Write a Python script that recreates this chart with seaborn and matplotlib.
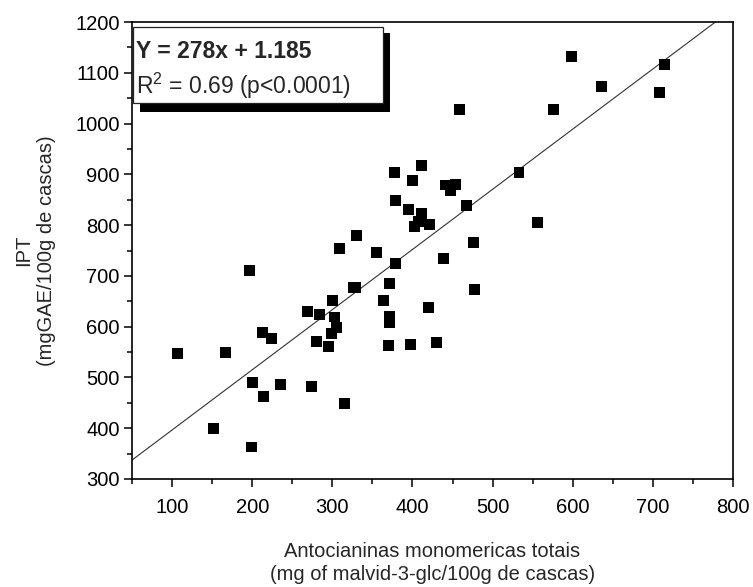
import matplotlib
matplotlib.use("Agg")
import matplotlib.pyplot as plt
import seaborn as sns
import numpy as np
import pandas as pd
from matplotlib.patches import Rectangle
from matplotlib.ticker import MultipleLocator

# ---- data ----
antocianinas = [107, 151.5, 166.5, 196.5, 199, 200, 212.7, 214.4, 224, 235,
                269, 273.5, 280, 284, 294.7, 298.4, 299.7, 302.6, 304.7, 308.6,
                314.7, 326, 329, 330.5, 355.5, 363.7, 370.9, 371, 371, 369.6,
                378, 378.7, 379, 395, 397, 400, 402.4, 407.4, 410.8, 411.7,
                420.8, 420, 430, 438.6, 440.8, 447, 453.2, 458.2, 467, 476,
                477, 533, 555.5, 575.6, 598.5, 635.5, 708, 714.2]
ipt = [548, 399, 550, 710, 363, 490, 588, 462, 576, 486,
       630, 483, 571, 624, 561, 587, 652, 619, 599, 754,
       448, 677, 678, 779, 746, 651, 685, 621, 608, 563,
       904, 849, 725, 830, 565, 887, 797, 808, 917, 822,
       802, 637, 568, 735, 879, 869, 880, 1027, 838, 765,
       673, 903, 805, 1027, 1133, 1073, 1062, 1117]

slope = 1.185
intercept = 278.0
eq_text = "Y = 278x + 1.185"
r2_text = "R$^2$ = 0.69 (p<0.0001)"

xlim = (50, 800)
ylim = (300, 1200)
x_ticks = [100, 200, 300, 400, 500, 600, 700, 800]
y_ticks = [300, 400, 500, 600, 700, 800, 900, 1000, 1100, 1200]

xlabel = "Antocianinas monomericas totais\n(mg of malvid-3-glc/100g de cascas)"
ylabel = "IPT\n(mgGAE/100g de cascas)"

# ---- style ----
sns.set_theme(style="ticks")
plt.rcParams['font.family'] = ['Liberation Sans', 'DejaVu Sans']
plt.rcParams['mathtext.fontset'] = 'custom'
plt.rcParams['mathtext.rm'] = 'Liberation Sans'
plt.rcParams['mathtext.it'] = 'Liberation Sans:italic'
plt.rcParams['mathtext.bf'] = 'Liberation Sans:bold'

fig = plt.figure(figsize=(7.53, 5.87), dpi=100)
ax = fig.add_axes([0.1753, 0.184, 0.7981, 0.7785])

df = pd.DataFrame({"x": antocianinas, "y": ipt})
sns.scatterplot(data=df, x="x", y="y", marker="s", s=62, color="black",
                edgecolor="none", ax=ax, zorder=3)

x_end = (ylim[1] - intercept) / slope
line_x = np.array([xlim[0], x_end])
line_df = pd.DataFrame({"x": line_x, "y": slope * line_x + intercept})
sns.lineplot(data=line_df, x="x", y="y", color="#333333", linewidth=0.8,
             ax=ax, zorder=2)

ax.set_xlim(*xlim)
ax.set_ylim(*ylim)
ax.set_xticks(x_ticks)
ax.set_yticks(y_ticks)
ax.xaxis.set_minor_locator(MultipleLocator(50))
ax.yaxis.set_minor_locator(MultipleLocator(50))
ax.tick_params(which='major', direction='out', length=6, width=1.1,
               labelsize=14.5, color='black', labelcolor='black')
ax.tick_params(which='minor', direction='out', length=3.5, width=1.1,
               color='black')
ax.tick_params(axis='x', pad=8)
ax.tick_params(axis='y', pad=3)
for sp in ax.spines.values():
    sp.set_visible(True)
    sp.set_linewidth(1.2)
    sp.set_color('black')

ax.set_xlabel(xlabel, fontsize=14.5, labelpad=18, linespacing=1.25)
ax.set_ylabel(ylabel, fontsize=14.5, labelpad=14, linespacing=1.25)

# legend-like box with shadow
shadow = Rectangle((0.0133, 0.803), 0.4157, 0.173, transform=ax.transAxes,
                   facecolor='black', edgecolor='none', zorder=4, clip_on=False)
box = Rectangle((0.002, 0.8228), 0.4156, 0.1662, transform=ax.transAxes,
                facecolor='white', edgecolor='#222222', linewidth=0.9,
                zorder=5, clip_on=False)
ax.add_patch(shadow)
ax.add_patch(box)
ax.text(0.0067, 0.921, eq_text, transform=ax.transAxes, fontsize=16.5,
        fontweight='bold', va='baseline', ha='left', zorder=6)
ax.text(0.0067, 0.843, r2_text, transform=ax.transAxes, fontsize=16.5,
        va='baseline', ha='left', zorder=6)

fig.savefig("out.png", dpi=100)
